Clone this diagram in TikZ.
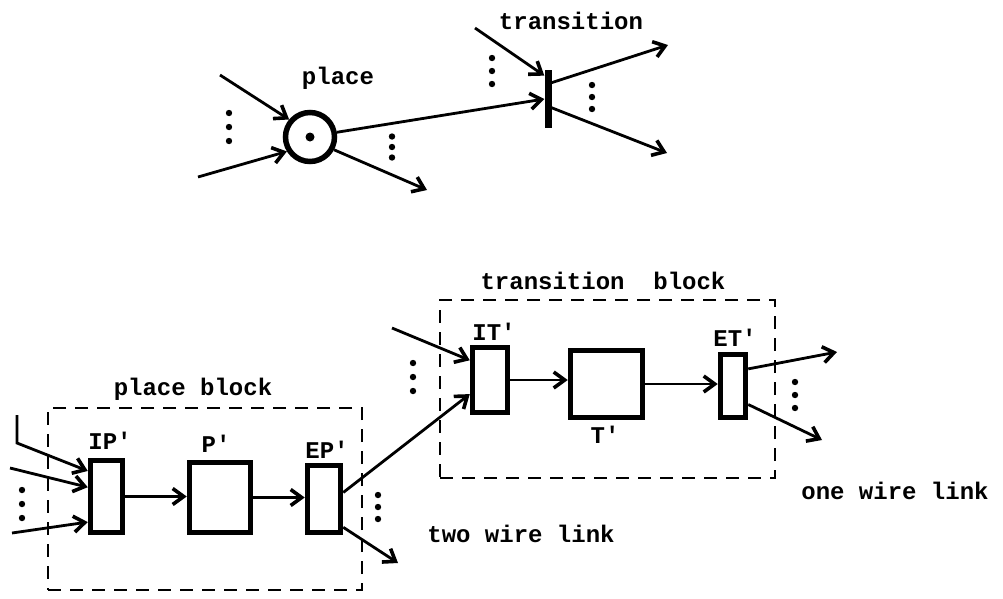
\documentclass[tikz,border=0pt]{standalone}
\usepackage{fontspec}
\setmainfont{Liberation Mono}
\usetikzlibrary{arrows.meta,calc}
\newcommand\pq{\textquotesingle}
\begin{document}
\begin{tikzpicture}[x=1pt,y=-1pt,
  every node/.style={font=\fontsize{24}{28}\selectfont\bfseries},
  wire/.style={line width=2.8pt},
  arr/.style={wire,-{Straight Barb[length=11pt,width=16pt,line width=3.6pt]}},
  blk/.style={draw,line width=5.5pt,rectangle,inner sep=0pt},
  dashbox/.style={draw,line width=2.2pt,dash pattern=on 13pt off 9pt,rectangle,inner sep=0pt},
  lbl/.style={inner sep=0pt,anchor=center},
  vdots/.pic={\fill (0,-#1) circle (3.2pt) (0,0) circle (3.2pt) (0,#1) circle (3.2pt);}
]
\useasboundingbox (0,0) rectangle (1003,598);

% ---------- top: place and transition ----------
\node[circle,draw,line width=5.5pt,minimum size=49pt,inner sep=0pt] (place) at (310,137) {};
\fill (place.center) circle (4.5pt);
\node[lbl] (placelbl) at (338,78) {place};

\node[rectangle,fill,minimum width=7pt,minimum height=58pt,inner sep=0pt] (trans) at (548,99) {};
\node[lbl] (translbl) at (571,21) {transition};

\coordinate (pin1) at (220,75);
\coordinate (pin2) at (198,177);
\coordinate (pout) at (427,190);
\coordinate (tin1) at (475,28);
\coordinate (tout1) at (668,45);
\coordinate (tout2) at (667,153);

\draw[arr] (pin1) -- (place.140);
\draw[arr] (pin2) -- (place.212);
\draw[arr] (place.332) -- (pout);
\draw[arr] (place.10) -- (trans.west);
\draw[arr] (tin1) -- ($(trans.north west)!0.1!(trans.south west)$);
\draw[arr] ($(trans.north east)!0.22!(trans.south east)$) -- (tout1);
\draw[arr] ($(trans.north east)!0.65!(trans.south east)$) -- (tout2);

\pic at (229,127) {vdots=14};
\pic at (392,147) {vdots=10.5};
\pic at (492,71) {vdots=13};
\pic at (592,97) {vdots=12};

% ---------- bottom: place block ----------
\node[dashbox,minimum width=314pt,minimum height=182pt] (pblock) at (205,499) {};
\node[lbl] (pblocklbl) at (193,389) {place block};

\node[blk,minimum width=32pt,minimum height=72pt] (ip) at (106.5,496.5) {};
\node[blk,minimum width=61pt,minimum height=70pt] (p) at (220,497.5) {};
\node[blk,minimum width=33pt,minimum height=67pt] (ep) at (324,499) {};
\node[lbl] (iplbl) at (110,441) {IP\pq};
\node[lbl] (plbl) at (216,444) {P\pq};
\node[lbl] (eplbl) at (327,450) {EP\pq};

\coordinate (a0) at (17,415);
\coordinate (a1) at (17,443);
\coordinate (a2) at (10,468);
\coordinate (a3) at (12,533);
\draw[arr] (a0) -- (a1) -- ($(ip.north west)!0.17!(ip.south west)$);
\draw[arr] (a2) -- ($(ip.north west)!0.38!(ip.south west)$);
\draw[arr] (a3) -- ($(ip.north west)!0.83!(ip.south west)$);
\draw[arr] (ip.east) -- (ip.east -| p.west);
\draw[arr] (p.east) -- (p.east -| ep.west);

\pic at (22,504) {vdots=14};
\pic at (378,507) {vdots=12};

\node[lbl] (twolbl) at (521,534) {two wire link};
\coordinate (epout) at (398,563);
\draw[arr] ($(ep.north east)!0.89!(ep.south east)$) -- (epout);

% ---------- bottom: transition block ----------
\node[dashbox,minimum width=335pt,minimum height=178pt] (tblock) at (607.5,389) {};
\node[lbl] (tblocklbl) at (603,281) {transition\ \ block};

\node[blk,minimum width=35pt,minimum height=65pt] (it) at (490,380) {};
\node[blk,minimum width=72pt,minimum height=67pt] (t) at (606.5,384) {};
\node[blk,minimum width=25pt,minimum height=63pt] (et) at (733,386) {};
\node[lbl] (itlbl) at (494,332) {IT\pq};
\node[lbl] (tlbl) at (605,435) {T\pq};
\node[lbl] (etlbl) at (735,338) {ET\pq};

\draw[arr] ($(ep.north east)!0.41!(ep.south east)$) -- ($(it.north west)!0.7!(it.south west)$);
\coordinate (itin) at (392,328);
\draw[arr] (itin) -- ($(it.north west)!0.22!(it.south west)$);
\draw[arr] (it.east) -- (it.east -| t.west);
\draw[arr] (t.east) -- (t.east -| et.west);

\coordinate (etout1) at (837,352);
\coordinate (etout2) at (822,440);
\draw[arr] ($(et.north east)!0.25!(et.south east)$) -- (etout1);
\draw[arr] ($(et.north east)!0.77!(et.south east)$) -- (etout2);

\pic at (413,377) {vdots=14};
\pic at (795,395) {vdots=13};

\node[lbl] (onelbl) at (895,491) {one wire link};
\end{tikzpicture}
\end{document}
